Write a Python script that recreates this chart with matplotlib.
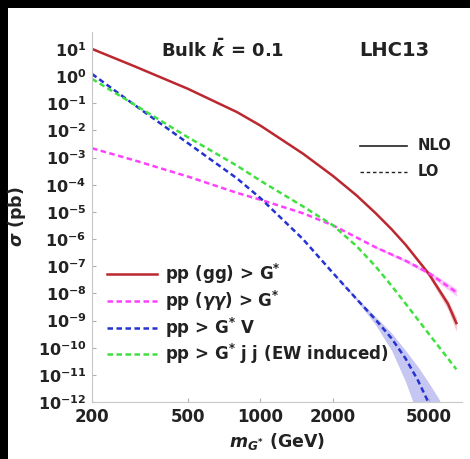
import matplotlib.pyplot as plt
from matplotlib.patches import Rectangle

plt.rcParams['mathtext.fontset'] = 'custom'
plt.rcParams['mathtext.rm'] = 'DejaVu Sans:bold'
plt.rcParams['mathtext.bf'] = 'DejaVu Sans:bold'
plt.rcParams['mathtext.it'] = 'DejaVu Sans:italic:bold'

# graviton mass (GeV) and cross sections (pb)
m_gg = [200, 300, 500, 800, 1000, 1500, 2000, 2500, 3000, 3500, 4000, 5000, 6000, 6500]
s_gg = [10, 2.3, 0.34, 0.047, 0.015, 1.4e-3, 2.1e-4, 4.1e-5, 9.1e-6, 2.3e-6, 6.2e-7, 5.2e-8, 4.1e-9, 8e-10]

m_aa = [200, 300, 500, 800, 1000, 1500, 2000, 3000, 4000, 5000, 6500]
s_aa = [2.2e-3, 7.9e-4, 2.0e-4, 5.0e-5, 2.8e-5, 8.9e-6, 3.2e-6, 5.0e-7, 1.6e-7, 5.6e-8, 1.1e-8]

m_v = [200, 300, 500, 800, 1000, 1500, 2000, 2500, 3000, 3500, 4000, 4500, 5000, 5500]
s_v = [1.2, 8.7e-2, 3.4e-3, 1.7e-4, 3.2e-5, 1.0e-6, 5.6e-8, 6.3e-9, 1.1e-9, 2.2e-10, 4.0e-11, 6.3e-12, 8.9e-13, 1.3e-13]

# uncertainty band of G* V
m_vband = [2000, 2500, 3000, 3500, 4000, 4500, 5000, 5500, 6000]
s_vlo = [5.3e-8, 5.6e-9, 7.1e-10, 7.9e-11, 5.6e-12, 3.2e-13, 1.4e-14, 5.0e-16, 1.6e-17]
s_vhi = [5.9e-8, 7.1e-9, 1.4e-9, 3.5e-10, 7.9e-11, 2.0e-11, 5.0e-12, 1.3e-12, 2.5e-13]

m_jj = [200, 300, 500, 800, 1000, 1500, 2000, 2500, 3000, 3500, 4000, 5000, 6000, 6500]
s_jj = [0.79, 8.9e-2, 5.6e-3, 5.0e-4, 1.4e-4, 1.6e-5, 3.2e-6, 5.6e-7, 1.0e-7, 1.9e-8, 4.2e-9, 3.2e-10, 4.0e-11, 1.6e-11]

# small bands at high mass
m_ggband = [4000, 5000, 6000, 6500]
s_gglo = [5.5e-7, 4.0e-8, 2.5e-9, 4.0e-10]
s_gghi = [6.8e-7, 6.0e-8, 5.5e-9, 1.3e-9]
m_aaband = [3000, 4000, 5000, 6500]
s_aalo = [4.6e-7, 1.4e-7, 4.6e-8, 8.0e-9]
s_aahi = [5.4e-7, 1.8e-7, 6.6e-8, 1.5e-8]

xticks = [200, 500, 1000, 2000, 5000]
yexp = list(range(-12, 2))

c_red = '#bb2830'
c_mag = '#ff40ff'
c_blue = '#2432d0'
c_green = '#40e040'
dash = (0, (2.2, 1.4))

fig = plt.figure(figsize=(4.7, 4.59), dpi=100, facecolor='black')
fig.patches.append(Rectangle((8/470, 0), 462/470, 451/459, transform=fig.transFigure,
                             facecolor='white', edgecolor='none', zorder=-1))
ax = fig.add_axes([92/470, 57/459, 370/470, 370/459])
ax.set_facecolor('none')

ax.fill_between(m_vband, s_vlo, s_vhi, color='#b8b8f0', alpha=0.8, lw=0)
ax.fill_between(m_ggband, s_gglo, s_gghi, color='#f0b0b8', alpha=0.7, lw=0)
ax.fill_between(m_aaband, s_aalo, s_aahi, color='#f8b0f8', alpha=0.7, lw=0)

ax.plot(m_gg, s_gg, color=c_red, lw=1.8, label='pp (gg) > G$^{*}$')
ax.plot(m_aa, s_aa, color=c_mag, lw=1.8, ls=dash, label='pp ($\\gamma\\gamma$) > G$^{*}$')
ax.plot(m_v, s_v, color=c_blue, lw=1.8, ls=dash, label='pp > G$^{*}$ V')
ax.plot(m_jj, s_jj, color=c_green, lw=1.8, ls=dash, label='pp > G$^{*}$ j j (EW induced)')

ax.set_xscale('log')
ax.set_yscale('log')
ax.set_xlim(200, 6860)
ax.set_ylim(1e-12, 42)

ax.set_xticks(xticks)
ax.set_xticklabels([str(t) for t in xticks], fontsize=12, fontweight='bold', color='#222222')
ax.set_yticks([10.0**e for e in yexp])
ax.set_yticklabels(['$10^{%d}$' % e for e in yexp], fontsize=11.5, color='#222222')
ax.minorticks_off()
ax.tick_params(direction='in', length=3, color='#b0b0b0', pad=4)

for s in ['top', 'right']:
    ax.spines[s].set_visible(False)
for s in ['left', 'bottom']:
    ax.spines[s].set_color('#c8c8c8')
    ax.spines[s].set_linewidth(0.8)

ax.set_xlabel('$m_{G^{*}}$ (GeV)', fontsize=12.5, fontweight='bold', color='#222222', labelpad=4)
ax.set_ylabel('$\\sigma$ (pb)', fontsize=12.5, fontweight='bold', color='#222222')
ax.yaxis.set_label_coords(-0.173, 0.5)

ax.text(0.354, 0.951, 'Bulk $\\bar{k}$ = 0.1', transform=ax.transAxes, fontsize=13,
        fontweight='bold', color='#222222', va='center', ha='center')
ax.text(0.816, 0.951, 'LHC13', transform=ax.transAxes, fontsize=14,
        fontweight='bold', color='#222222', va='center', ha='center')

leg = ax.legend(loc='lower left', bbox_to_anchor=(0.022, 0.079), borderaxespad=0, frameon=False,
                fontsize=12, handlelength=3.0, labelspacing=0.15, handletextpad=0.5)
for t in leg.get_texts():
    t.set_color('#222222')
    t.set_fontweight('bold')

# NLO / LO key
ax.plot([0.725, 0.85], [0.692, 0.692], transform=ax.transAxes, color='#222222', lw=1.2)
ax.plot([0.725, 0.85], [0.622, 0.622], transform=ax.transAxes, color='#222222', lw=1.0, ls=(0, (2.5, 2)))
ax.text(0.88, 0.692, 'NLO', transform=ax.transAxes, fontsize=10.5, fontweight='bold', va='center', color='#222222')
ax.text(0.88, 0.622, 'LO', transform=ax.transAxes, fontsize=10.5, fontweight='bold', va='center', color='#222222')

plt.savefig('out.png', dpi=100)
